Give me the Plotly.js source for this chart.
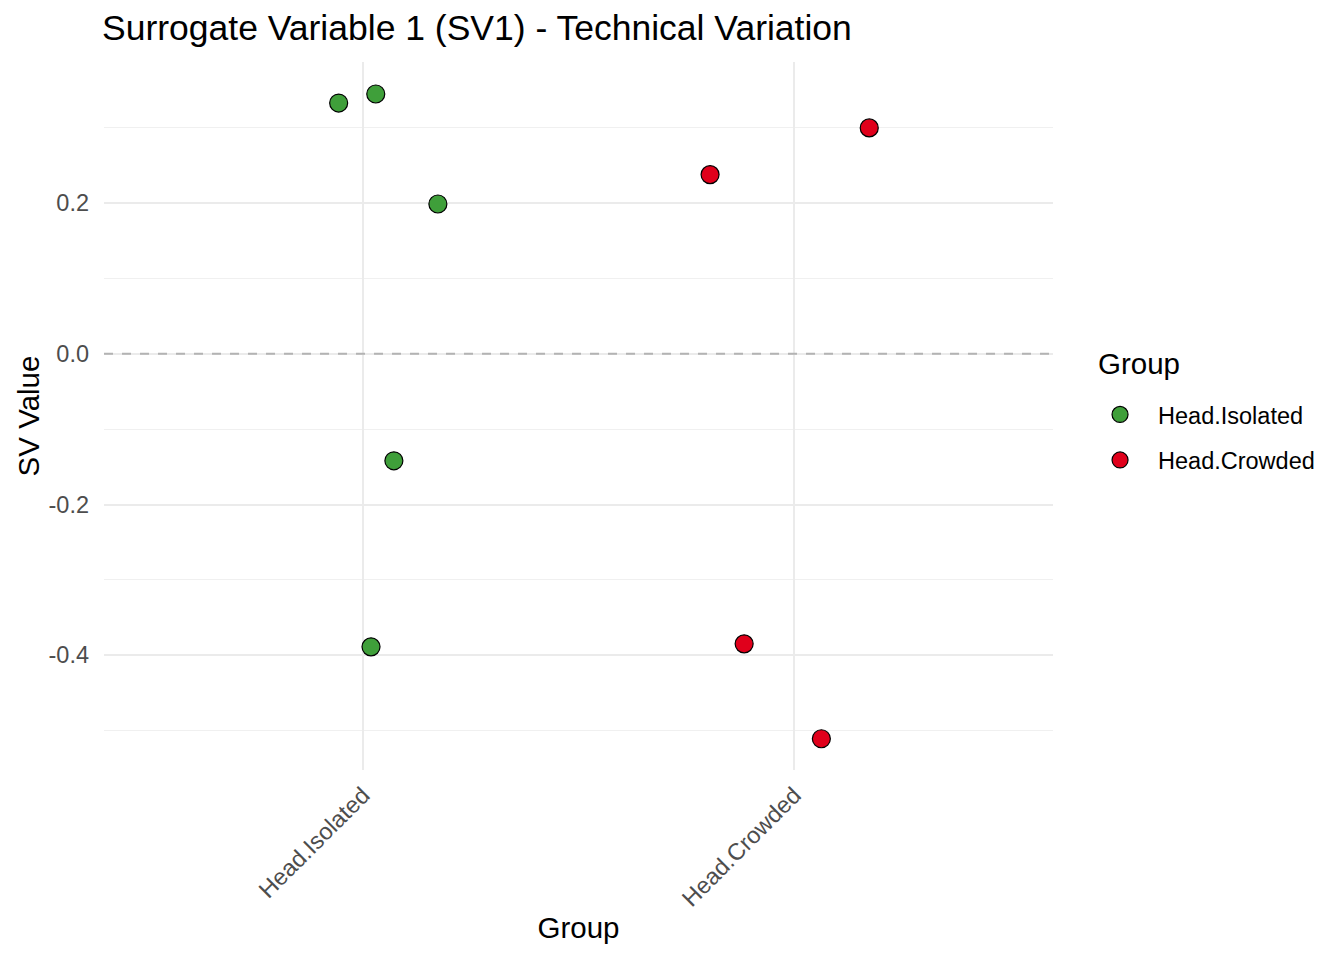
<!DOCTYPE html>
<html><head><meta charset="utf-8">
<script src="https://cdn.plot.ly/plotly-3.0.1.min.js"></script>
<style>body{margin:0;background:#fff}#chart{width:1344px;height:960px}</style>
</head><body><div id="chart"></div>
<script>
const categories = ["Head.Isolated", "Head.Crowded"];
const colors = ["#3F9F3A", "#E0001B"];
// jittered x offsets (relative to category position) and SV1 values
const isolatedJitter = [-0.056, 0.030, 0.174, 0.072, 0.019];
const isolatedValues = [0.333, 0.345, 0.199, -0.142, -0.389];
const crowdedJitter = [0.174, -0.195, -0.116, 0.063];
const crowdedValues = [0.300, 0.238, -0.385, -0.511];
const yTicks = [-0.4, -0.2, 0.0, 0.2];
const yTickText = ["-0.4", "-0.2", "0.0", "0.2"];
const legendTitle = "Group";

const jitters = [isolatedJitter, crowdedJitter];
const values = [isolatedValues, crowdedValues];

const traces = categories.map((c, i) => ({
  type: "scatter", mode: "markers", name: c, legendgroup: c,
  x: jitters[i].map(d => i + 1 + d),
  y: values[i],
  marker: {color: colors[i], size: 18, line: {color: "#000", width: 1.2}}
}));

const layout = {
  width: 1344, height: 960,
  paper_bgcolor: "#fff", plot_bgcolor: "#fff",
  margin: {l: 104, r: 291, t: 62, b: 190},
  font: {family: "Liberation Sans, Arial, sans-serif", color: "#000"},
  title: {text: "Surrogate Variable 1 (SV1) - Technical Variation", x: 0.0759, xanchor: "left", y: 0.971, yanchor: "middle", font: {size: 35.5, color: "#000"}},
  xaxis: {
    range: [0.4, 2.6], tickvals: [1, 2], ticktext: categories, tickangle: -45,
    showgrid: true, gridcolor: "#EBEBEB", gridwidth: 2, zeroline: false, showline: false,
    ticks: "", ticklabelstandoff: 6, tickfont: {size: 23.5, color: "#4D4D4D"},
    title: {text: "Group", font: {size: 29.5, color: "#000"}, standoff: 6}
  },
  yaxis: {
    range: [-0.5525, 0.3875], tickvals: yTicks, ticktext: yTickText,
    showgrid: true, gridcolor: "#EBEBEB", gridwidth: 2, zeroline: false, showline: false,
    ticks: "", ticklabelstandoff: 14, tickfont: {size: 23.5, color: "#4D4D4D"},
    minor: {tickvals: [-0.5, -0.3, -0.1, 0.1, 0.3], showgrid: true, gridcolor: "#F0F0F0", gridwidth: 1},
    title: {text: "SV Value", font: {size: 29.5, color: "#000"}, standoff: 0}
  },
  shapes: [{type: "line", xref: "paper", x0: 0, x1: 1, yref: "y", y0: 0, y1: 0,
    line: {color: "#B3B3B3", width: 2, dash: "dash"}}],
  annotations: [{text: legendTitle, xref: "paper", yref: "paper", x: 1.0453, y: 0.5748,
    xanchor: "left", yanchor: "middle", showarrow: false, font: {size: 29.5, color: "#000"}}],
  legend: {
    x: 1.0306, xanchor: "left", y: 0.533, yanchor: "top",
    font: {size: 23.5, color: "#000"}, itemsizing: "trace", itemwidth: 66,
    tracegroupgap: 12
  },
  showlegend: true
};
Plotly.newPlot("chart", traces, layout, {displayModeBar: false});
</script></body></html>
